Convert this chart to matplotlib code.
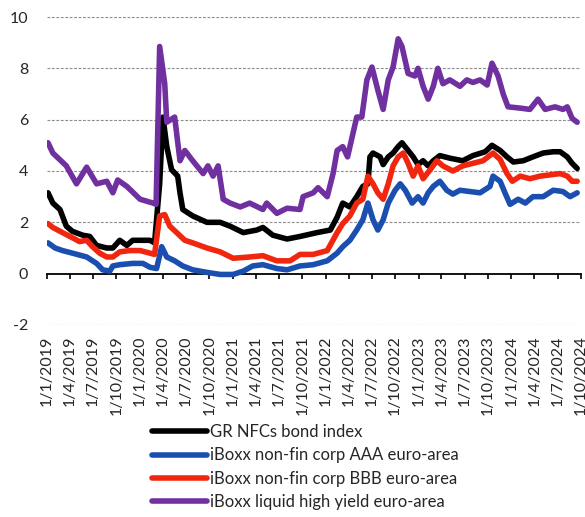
import matplotlib
matplotlib.use("Agg")
import matplotlib.pyplot as plt
import pandas as pd

plt.rcParams['font.family'] = ['Lato', 'DejaVu Sans']
plt.rcParams['axes.unicode_minus'] = False

# -------------
# DATA
# -------------
tick_dates = ["2019-01-01", "2019-04-01", "2019-07-01", "2019-10-01",
              "2020-01-01", "2020-04-01", "2020-07-01", "2020-10-01",
              "2021-01-01", "2021-04-01", "2021-07-01", "2021-10-01",
              "2022-01-01", "2022-04-01", "2022-07-01", "2022-10-01",
              "2023-01-01", "2023-04-01", "2023-07-01", "2023-10-01",
              "2024-01-01", "2024-04-01", "2024-07-01", "2024-10-01"]
tick_labels = ["1/1/2019", "1/4/2019", "1/7/2019", "1/10/2019",
               "1/1/2020", "1/4/2020", "1/7/2020", "1/10/2020",
               "1/1/2021", "1/4/2021", "1/7/2021", "1/10/2021",
               "1/1/2022", "1/4/2022", "1/7/2022", "1/10/2022",
               "1/1/2023", "1/4/2023", "1/7/2023", "1/10/2023",
               "1/1/2024", "1/4/2024", "1/7/2024", "1/10/2024"]

# GR NFCs bond index
gr_dates = ["2019-01-05", "2019-01-24", "2019-02-21", "2019-03-18", "2019-04-11", "2019-05-21",
            "2019-06-18", "2019-07-15", "2019-08-24", "2019-09-17", "2019-10-14", "2019-11-11",
            "2019-12-04", "2020-01-02", "2020-02-10", "2020-02-28", "2020-03-19", "2020-04-01",
            "2020-04-16", "2020-05-05", "2020-05-29", "2020-06-07", "2020-06-18", "2020-07-27",
            "2020-09-21", "2020-11-12", "2020-12-21", "2021-02-11", "2021-04-05", "2021-04-29",
            "2021-06-07", "2021-08-02", "2021-09-22", "2021-11-28", "2022-01-19", "2022-02-15",
            "2022-03-09", "2022-04-06", "2022-05-03", "2022-05-27", "2022-06-16", "2022-06-24",
            "2022-07-06", "2022-08-03", "2022-08-15", "2022-09-04", "2022-09-23", "2022-10-13",
            "2022-10-28", "2022-11-21", "2022-12-11", "2022-12-30", "2023-01-19", "2023-02-08",
            "2023-02-28", "2023-03-26", "2023-05-04", "2023-06-24", "2023-08-03", "2023-09-20",
            "2023-10-17", "2023-11-18", "2023-12-15", "2024-01-09", "2024-02-17", "2024-03-26",
            "2024-05-05", "2024-06-14", "2024-07-11", "2024-08-08", "2024-08-27", "2024-09-16"]
gr_vals = [3.15, 2.75, 2.5, 1.85, 1.65, 1.5,
           1.45, 1.1, 1.0, 1.0, 1.3, 1.1,
           1.3, 1.3, 1.3, 1.2, 3.5, 6.1,
           4.95, 4.05, 3.8, 3.15, 2.5, 2.25,
           2.0, 2.0, 1.85, 1.6, 1.7, 1.8,
           1.5, 1.35, 1.45, 1.6, 1.7, 2.2,
           2.75, 2.6, 3.0, 3.4, 3.5, 4.55,
           4.7, 4.55, 4.25, 4.55, 4.7, 4.95,
           5.1, 4.8, 4.55, 4.25, 4.4, 4.2,
           4.4, 4.6, 4.5, 4.4, 4.6, 4.75,
           5.0, 4.8, 4.55, 4.35, 4.4, 4.55,
           4.7, 4.75, 4.75, 4.55, 4.3, 4.1]

# iBoxx non-fin corp AAA euro-area
aaa_dates = ["2019-01-05", "2019-02-02", "2019-03-03", "2019-04-11", "2019-06-06", "2019-07-15",
             "2019-08-08", "2019-09-05", "2019-09-17", "2019-10-14", "2019-12-04", "2020-01-13",
             "2020-02-10", "2020-03-07", "2020-03-27", "2020-04-16", "2020-05-17", "2020-06-18",
             "2020-07-27", "2020-09-21", "2020-11-12", "2021-01-02", "2021-02-11", "2021-03-20",
             "2021-04-29", "2021-06-23", "2021-08-02", "2021-09-22", "2021-11-13", "2022-01-07",
             "2022-02-15", "2022-03-09", "2022-04-06", "2022-05-03", "2022-05-27", "2022-06-16",
             "2022-07-06", "2022-07-25", "2022-08-15", "2022-09-04", "2022-10-01", "2022-10-21",
             "2022-11-10", "2022-12-07", "2022-12-30", "2023-01-19", "2023-02-08", "2023-02-28",
             "2023-03-26", "2023-04-22", "2023-05-16", "2023-06-13", "2023-07-22", "2023-08-31",
             "2023-10-09", "2023-10-21", "2023-11-18", "2023-12-07", "2023-12-27", "2024-01-28",
             "2024-02-25", "2024-03-26", "2024-05-05", "2024-06-14", "2024-07-22", "2024-08-19",
             "2024-09-16"]
aaa_vals = [1.2, 1.0, 0.9, 0.8, 0.65, 0.4,
            0.15, 0.1, 0.3, 0.35, 0.4, 0.4,
            0.25, 0.2, 1.05, 0.65, 0.5, 0.3,
            0.15, 0.05, -0.03, -0.03, 0.1, 0.3,
            0.35, 0.2, 0.15, 0.3, 0.35, 0.5,
            0.8, 1.05, 1.3, 1.7, 2.1, 2.75,
            2.1, 1.7, 2.1, 2.75, 3.25, 3.5,
            3.25, 2.75, 3.0, 2.75, 3.15, 3.4,
            3.6, 3.25, 3.1, 3.25, 3.2, 3.15,
            3.4, 3.8, 3.6, 3.15, 2.7, 2.9,
            2.75, 3.0, 3.0, 3.25, 3.2, 3.0,
            3.15]

# iBoxx non-fin corp BBB euro-area
bbb_dates = ["2019-01-05", "2019-01-24", "2019-03-03", "2019-04-11", "2019-05-09", "2019-06-06",
             "2019-06-29", "2019-07-27", "2019-08-24", "2019-09-17", "2019-10-14", "2019-11-23",
             "2020-01-02", "2020-02-10", "2020-02-28", "2020-03-19", "2020-04-08", "2020-04-28",
             "2020-05-25", "2020-06-26", "2020-07-27", "2020-09-21", "2020-11-12", "2021-01-02",
             "2021-03-08", "2021-04-29", "2021-06-23", "2021-08-14", "2021-09-22", "2021-11-13",
             "2022-01-07", "2022-02-15", "2022-03-09", "2022-04-06", "2022-05-03", "2022-05-27",
             "2022-06-16", "2022-07-06", "2022-07-25", "2022-08-15", "2022-09-04", "2022-09-23",
             "2022-10-13", "2022-11-02", "2022-11-21", "2022-12-11", "2022-12-30", "2023-01-19",
             "2023-02-16", "2023-03-14", "2023-04-07", "2023-05-16", "2023-06-24", "2023-08-03",
             "2023-09-12", "2023-10-21", "2023-11-18", "2023-12-15", "2024-01-05", "2024-02-05",
             "2024-03-14", "2024-04-23", "2024-06-02", "2024-07-11", "2024-08-08", "2024-08-27",
             "2024-09-16"]
bbb_vals = [1.95, 1.8, 1.6, 1.4, 1.25, 1.3,
            1.05, 0.8, 0.65, 0.65, 0.85, 0.9,
            0.9, 0.8, 0.75, 2.25, 2.3, 1.85,
            1.6, 1.3, 1.2, 1.0, 0.85, 0.6,
            0.65, 0.7, 0.5, 0.5, 0.75, 0.75,
            0.9, 1.6, 1.95, 2.25, 2.75, 2.9,
            3.8, 3.5, 3.15, 2.9, 3.5, 4.2,
            4.55, 4.7, 4.3, 3.8, 4.2, 3.7,
            4.05, 4.4, 4.2, 4.0, 4.2, 4.3,
            4.4, 4.7, 4.45, 3.9, 3.6, 3.8,
            3.7, 3.8, 3.85, 3.9, 3.8, 3.6,
            3.6]

# iBoxx liquid high yield euro-area
hy_dates = ["2019-01-05", "2019-01-24", "2019-03-18", "2019-04-27", "2019-06-06", "2019-07-15",
            "2019-08-24", "2019-09-17", "2019-10-06", "2019-11-11", "2020-01-02", "2020-02-22",
            "2020-03-05", "2020-03-19", "2020-04-08", "2020-04-16", "2020-05-17", "2020-06-07",
            "2020-06-26", "2020-07-27", "2020-09-06", "2020-09-25", "2020-10-15", "2020-11-04",
            "2020-11-24", "2020-12-21", "2021-01-30", "2021-03-08", "2021-04-29", "2021-05-14",
            "2021-06-23", "2021-08-02", "2021-09-22", "2021-10-04", "2021-11-13", "2021-12-02",
            "2022-01-07", "2022-01-30", "2022-02-15", "2022-03-09", "2022-03-28", "2022-05-03",
            "2022-05-23", "2022-06-12", "2022-07-02", "2022-07-25", "2022-08-15", "2022-09-04",
            "2022-09-23", "2022-10-13", "2022-10-28", "2022-11-21", "2022-12-18", "2022-12-30",
            "2023-01-19", "2023-02-08", "2023-02-28", "2023-03-18", "2023-04-07", "2023-05-04",
            "2023-06-13", "2023-07-10", "2023-08-03", "2023-08-31", "2023-09-28", "2023-10-17",
            "2023-11-10", "2023-11-30", "2023-12-19", "2024-02-05", "2024-03-14", "2024-04-15",
            "2024-05-13", "2024-06-21", "2024-07-22", "2024-08-08", "2024-08-27", "2024-09-16"]
hy_vals = [5.1, 4.7, 4.2, 3.5, 4.15, 3.5,
           3.6, 3.15, 3.65, 3.4, 2.9, 2.75,
           2.7, 8.85, 7.4, 5.9, 6.1, 4.4,
           4.8, 4.4, 3.9, 4.2, 3.8, 4.2,
           2.9, 2.75, 2.6, 2.75, 2.5, 2.75,
           2.35, 2.55, 2.5, 3.0, 3.15, 3.35,
           3.0, 3.9, 4.8, 4.95, 4.55, 6.1,
           6.1, 7.55, 8.05, 7.15, 6.4, 7.55,
           8.05, 9.15, 8.85, 7.8, 7.7, 8.0,
           7.3, 6.8, 7.3, 8.0, 7.4, 7.55,
           7.3, 7.55, 7.45, 7.55, 7.35, 8.2,
           7.7, 7.0, 6.5, 6.45, 6.4, 6.8,
           6.4, 6.5, 6.4, 6.5, 6.05, 5.9]

series = [
    (gr_dates, gr_vals, "GR NFCs bond index", "#000000"),
    (aaa_dates, aaa_vals, "iBoxx non-fin corp AAA euro-area", "#1a4fb0"),
    (bbb_dates, bbb_vals, "iBoxx non-fin corp BBB euro-area", "#f0260f"),
    (hy_dates, hy_vals, "iBoxx liquid high yield euro-area", "#7030a0"),
]

# -------------
# PLOT
# -------------
fig = plt.figure(figsize=(5.85, 5.17), dpi=100)
ax = fig.add_axes([47 / 585, 192 / 517, 534 / 585, 308 / 517])

for d, v, label, col in series:
    ax.plot(pd.to_datetime(d), v, color=col, lw=4.0, label=label,
            solid_joinstyle="round", solid_capstyle="round")

ax.set_xlim(pd.Timestamp("2019-01-01"), pd.Timestamp("2024-10-01"))
ax.set_ylim(-2, 10)
ax.set_yticks([-2, 0, 2, 4, 6, 8, 10])
for yv in [-2, 2, 4, 6, 8, 10]:
    ax.axhline(yv, color="#8c8c8c", lw=0.8, ls=(0, (2.5, 1.5)), zorder=0)

for s in ["top", "right", "left"]:
    ax.spines[s].set_visible(False)
ax.spines["bottom"].set_position(("data", 0))
ax.spines["bottom"].set_color("black")
ax.spines["bottom"].set_linewidth(1.3)
ax.spines["bottom"].set_zorder(0.5)

ax.set_xticks(pd.to_datetime(tick_dates))
ax.set_xticklabels(tick_labels, rotation=90, fontsize=11.5, color="#262626")
ax.tick_params(axis="x", direction="out", length=3.6, width=1.2, pad=41)
ax.tick_params(axis="y", length=0, pad=13.5, labelsize=11.5, labelcolor="#262626")

fig.legend(loc="upper left", bbox_to_anchor=(152 / 585, 1 - 424 / 517),
           frameon=False, fontsize=12, handlelength=3.3, handletextpad=0.15,
           labelspacing=0.44, borderpad=0, borderaxespad=0, labelcolor="#262626")

fig.savefig("out.png", dpi=100)
